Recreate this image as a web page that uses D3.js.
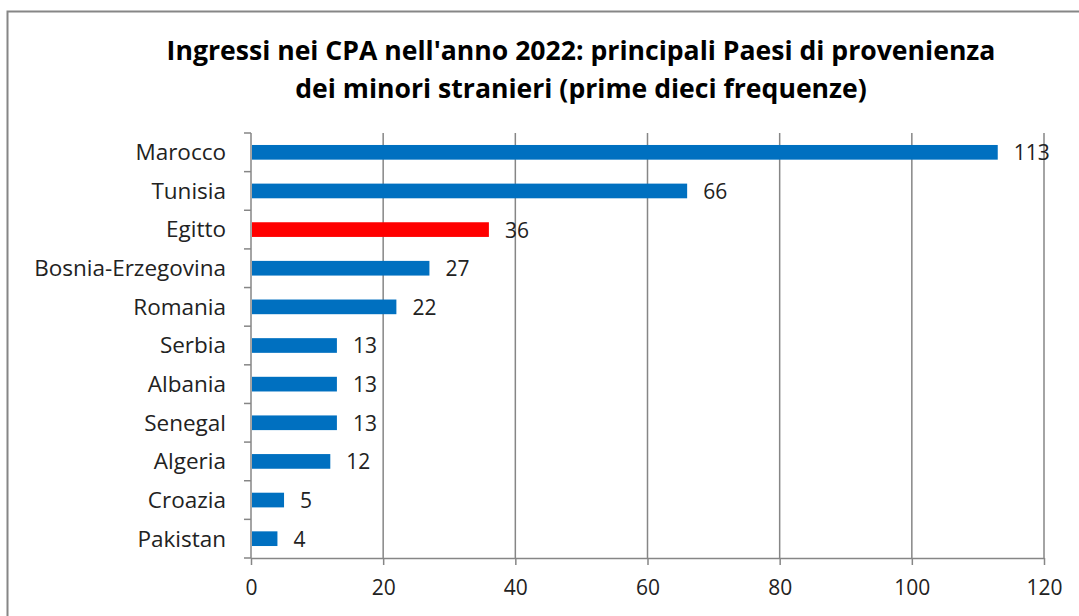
<!DOCTYPE html>
<html>
<head>
<meta charset="utf-8">
<script src="https://cdn.jsdelivr.net/npm/d3@7"></script>
<style>
  body { margin: 0; background: #fff; }
  text { font-family: "Open Sans", "Liberation Sans", sans-serif; }
</style>
</head>
<body>
<div id="chart"></div>
<script>
var paesi = ["Marocco", "Tunisia", "Egitto", "Bosnia-Erzegovina", "Romania", "Serbia",
             "Albania", "Senegal", "Algeria", "Croazia", "Pakistan"];
var valori = [113, 66, 36, 27, 22, 13, 13, 13, 12, 5, 4];
var evidenziato = "Egitto";
var ticks = [0, 20, 40, 60, 80, 100, 120];
var titolo = ["Ingressi nei CPA nell'anno 2022: principali Paesi di provenienza",
              "dei minori stranieri (prime dieci frequenze)"];

var width = 1079,
    height = 616;

var svg = d3.select("#chart").append("svg")
    .attr("width", width)
    .attr("height", height);

// chart frame
svg.append("rect")
    .attr("x", 7.5).attr("y", 11.5)
    .attr("width", width + 20).attr("height", height + 20)
    .attr("fill", "none")
    .attr("stroke", "#868686")
    .attr("stroke-width", 2);

var pLeft = 251, pRight = 1044, pTop = 133, pBottom = 558;

var x = d3.scaleLinear().domain([0, 120]).range([pLeft, pRight]);
var y = d3.scaleBand().domain(paesi).range([pTop, pBottom]).paddingInner(0.62).paddingOuter(0.31);

// gridlines
svg.append("g").selectAll("line")
    .data(ticks.slice(1))
    .enter().append("line")
    .attr("x1", function(d) { return x(d); })
    .attr("x2", function(d) { return x(d); })
    .attr("y1", pTop)
    .attr("y2", pBottom)
    .attr("stroke", "#868686")
    .attr("stroke-width", 1.5);

// bottom axis
var xAxis = svg.append("g")
    .attr("transform", "translate(0," + pBottom + ")")
    .call(d3.axisBottom(x).tickValues(ticks).tickSize(7).tickPadding(15).tickSizeOuter(0));
xAxis.select(".domain").attr("stroke", "#868686").attr("stroke-width", 1.5);
xAxis.selectAll(".tick line").attr("stroke", "#868686").attr("stroke-width", 1.5);
xAxis.selectAll("text").attr("font-size", 21).attr("fill", "#222")
    .style("font-family", "'Open Sans', sans-serif");

// left axis, ticks between categories
var yAxis = svg.append("g").attr("transform", "translate(" + pLeft + ",0)");
yAxis.append("line")
    .attr("x1", 0).attr("x2", 0).attr("y1", pTop).attr("y2", pBottom)
    .attr("stroke", "#868686").attr("stroke-width", 1.5);
yAxis.selectAll(".tk")
    .data(d3.range(paesi.length + 1))
    .enter().append("line")
    .attr("x1", -7).attr("x2", 0)
    .attr("y1", function(i) { return pTop + i * (pBottom - pTop) / paesi.length; })
    .attr("y2", function(i) { return pTop + i * (pBottom - pTop) / paesi.length; })
    .attr("stroke", "#868686").attr("stroke-width", 1.5);
yAxis.selectAll(".lbl")
    .data(paesi)
    .enter().append("text")
    .attr("x", -25)
    .attr("y", function(d) { return y(d) + y.bandwidth() / 2; })
    .attr("dy", "0.35em")
    .attr("text-anchor", "end")
    .attr("font-size", 22.5)
    .attr("fill", "#222")
    .text(function(d) { return d; });

// bars
var dati = paesi.map(function(p, i) { return {paese: p, valore: valori[i]}; });
svg.append("g").selectAll("rect")
    .data(dati)
    .enter().append("rect")
    .attr("x", x(0) + 1)
    .attr("y", function(d) { return y(d.paese); })
    .attr("width", function(d) { return x(d.valore) - x(0) - 1; })
    .attr("height", y.bandwidth())
    .attr("fill", function(d) { return d.paese === evidenziato ? "#FF0000" : "#0070C0"; });

// value labels
svg.append("g").selectAll("text")
    .data(dati)
    .enter().append("text")
    .attr("x", function(d) { return x(d.valore) + 16; })
    .attr("y", function(d) { return y(d.paese) + y.bandwidth() / 2; })
    .attr("dy", "0.38em")
    .attr("font-size", 21)
    .attr("fill", "#222")
    .text(function(d) { return d.valore; });

// title
svg.append("g").selectAll("text")
    .data(titolo)
    .enter().append("text")
    .attr("x", 581)
    .attr("y", function(d, i) { return 60 + i * 38; })
    .attr("text-anchor", "middle")
    .attr("font-size", 26.6)
    .attr("font-weight", "bold")
    .attr("fill", "#000")
    .text(function(d) { return d; });
</script>
</body>
</html>
